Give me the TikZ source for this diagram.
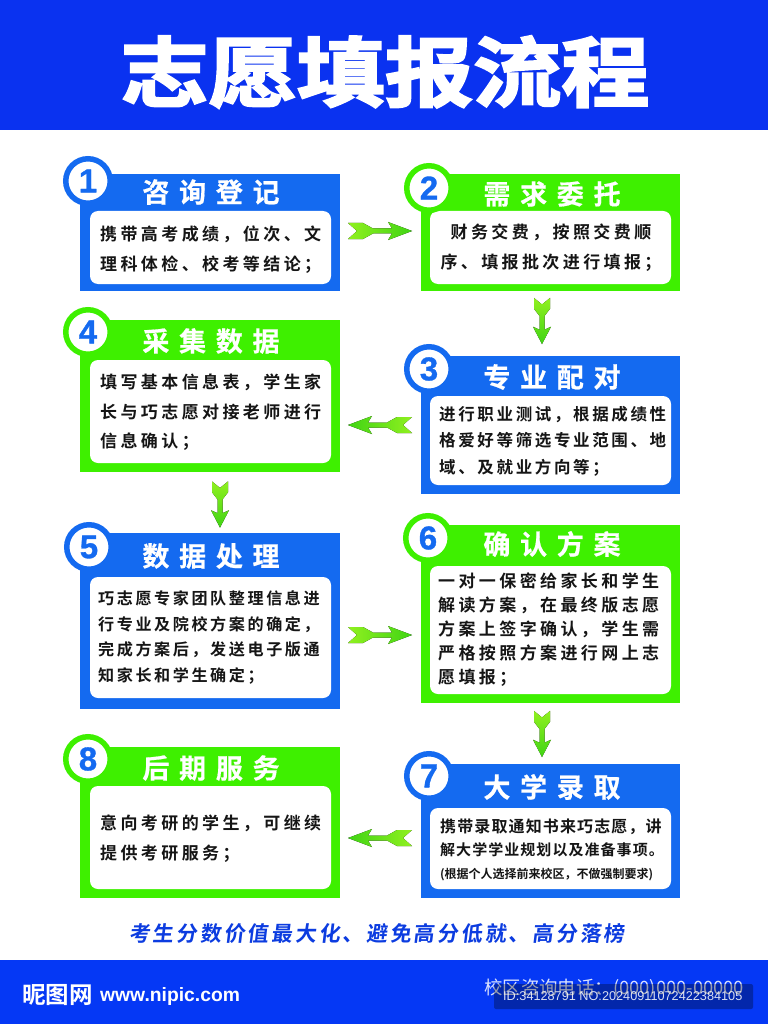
\documentclass[tikz,border=0pt]{standalone}
\usepackage{fontspec}
\usetikzlibrary{calc}
\setmainfont{Liberation Sans}
\newfontfamily\titlefont[FakeBold=3,FakeStretch=1.16]{Noto Sans CJK SC Bold}
\newfontfamily\headfont[LetterSpace=36,FakeBold=0.6]{Noto Sans CJK SC Bold}
\newfontfamily\bodyA[LetterSpace=20]{Noto Sans CJK SC Bold}
\newfontfamily\bodyB[LetterSpace=16]{Noto Sans CJK SC Bold}
\newfontfamily\bodyC[LetterSpace=7]{Noto Sans CJK SC Bold}
\newfontfamily\sloganfont[LetterSpace=13,FakeSlant=0.12]{Noto Sans CJK SC Bold}
\newfontfamily\plaincjk{Noto Sans CJK SC}
\newfontfamily\boldcjk{Noto Sans CJK SC Bold}
\newfontfamily\digitfont[FakeBold=1]{Liberation Sans Bold}
\definecolor{topblue}{HTML}{0A32F0}
\definecolor{bandblue}{HTML}{0538F5}
\definecolor{panelblue}{HTML}{146AF0}
\definecolor{panelgreen}{HTML}{3EF000}
\definecolor{tailgreen}{HTML}{90F020}
\definecolor{headgreen}{HTML}{40D414}
\definecolor{inktext}{HTML}{151515}
\definecolor{slogan}{HTML}{0C3CE0}
\tikzset{
  panelbox/.style={inner sep=0pt,outer sep=0pt,minimum width=#1},
  innerbox/.style={fill=white,rounded corners=8pt,inner sep=0pt,outer sep=0pt,minimum width=241pt},
  ring/.style={circle,fill=white,draw=#1,line width=5.5pt,minimum size=44.5pt,inner sep=0pt,outer sep=0pt,
    text=panelblue,font=\fontsize{33}{33}\selectfont\digitfont},
  headtext/.style={text=white,inner sep=0pt,font=\fontsize{27}{27}\selectfont\headfont},
  bodytext/.style={text=inktext,inner sep=0pt,anchor=west,align=left}
}
% #1 centre, #2 rotation, #3 length scale, #4 shading keys
\newcommand{\fatarrow}[4]{%
  \fill[#4,rotate around={#2:(#1)},shift={(#1)},xscale=#3]
    (-32,-8)--(-17,-8)--(-7,-2.5)--(12,-2.5)--(8,-9)--(32,0)--(8,9)--(12,2.5)--(-7,2.5)--(-17,8)--(-32,8)--(-23,0)--cycle;}
\begin{document}
\begin{tikzpicture}[x=1pt,y=-1pt]
\useasboundingbox (0,0) rectangle (768,1024);
\fill[white] (0,0) rectangle (768,1024);
\fill[topblue] (0,0) rectangle (768,130);
\fill[bandblue] (0,960) rectangle (768,1024);
\node[text=white,inner sep=0pt] (title) at (385,72) {\fontsize{76}{76}\selectfont\titlefont 志愿填报流程};

% panels
\node[panelbox=260pt,fill=panelblue,minimum height=117pt] (p1) at (210,232.5) {};
\node[panelbox=259pt,fill=panelgreen,minimum height=117pt] (p2) at (550.5,232.5) {};
\node[panelbox=260pt,fill=panelgreen,minimum height=152pt] (p4) at (210,396) {};
\node[panelbox=259pt,fill=panelblue,minimum height=138pt] (p3) at (550.5,425) {};
\node[panelbox=260pt,fill=panelblue,minimum height=176pt] (p5) at (210,621) {};
\node[panelbox=259pt,fill=panelgreen,minimum height=178pt] (p6) at (550.5,614) {};
\node[panelbox=260pt,fill=panelgreen,minimum height=151pt] (p8) at (210,822.5) {};
\node[panelbox=259pt,fill=panelblue,minimum height=134pt] (p7) at (550.5,831) {};

% inner boxes
\node[innerbox,minimum height=73pt] (i1) at (210.5,247.5) {};
\node[innerbox,minimum height=73pt] (i2) at (550.5,247.5) {};
\node[innerbox,minimum height=103pt] (i4) at (210.5,411.5) {};
\node[innerbox,minimum height=89pt] (i3) at (550.5,440.5) {};
\node[innerbox,minimum height=121pt] (i5) at (210.5,637.5) {};
\node[innerbox,minimum height=128pt] (i6) at (550.5,630) {};
\node[innerbox,minimum height=103pt] (i8) at (210.5,837.5) {};
\node[innerbox,minimum height=81pt] (i7) at (550.5,848.5) {};

% number rings
\node[ring=panelblue] (n1) at (88,181) {1};
\node[ring=panelgreen] (n2) at (429,188) {2};
\node[ring=panelgreen] (n4) at (88,332) {4};
\node[ring=panelblue] (n3) at (429,369) {3};
\node[ring=panelblue] (n5) at (89,547) {5};
\node[ring=panelgreen] (n6) at (428,538) {6};
\node[ring=panelgreen] (n8) at (88,759) {8};
\node[ring=panelblue] (n7) at (429,776) {7};

% headings
\node[headtext] (h1) at (211,192) {咨询登记};
\node[headtext] (h2) at (552,194) {需求委托};
\node[headtext] (h4) at (211,341) {采集数据};
\node[headtext] (h3) at (552,377) {专业配对};
\node[headtext] (h5) at (211,556) {数据处理};
\node[headtext] (h6) at (552,544) {确认方案};
\node[headtext] (h8) at (211,768) {后期服务};
\node[headtext] (h7) at (552,787) {大学录取};

% body
\node[bodytext,font=\fontsize{17}{29.5}\selectfont\bodyA] (t1) at (100,249.5) {携带高考成绩，位次、文\\理科体检、校考等结论；};
\node[bodytext,anchor=center,align=center,font=\fontsize{17}{30}\selectfont\bodyA] (t2) at (551,248) {财务交费，按照交费顺\\序、填报批次进行填报；};
\node[bodytext,font=\fontsize{17}{29.5}\selectfont\bodyA] (t4) at (100,412.5) {填写基本信息表，学生家\\长与巧志愿对接老师进行\\信息确认；};
\node[bodytext,font=\fontsize{16.5}{26.5}\selectfont\bodyB] (t3) at (439,441) {进行职业测试，根据成绩性\\格爱好等筛选专业范围、地\\域、及就业方向等；};
\node[bodytext,font=\fontsize{16.1}{25.7}\selectfont\bodyB] (t5) at (98,637.5) {巧志愿专家团队整理信息进\\行专业及院校方案的确定，\\完成方案后，发送电子版通\\知家长和学生确定；};
\node[bodytext,font=\fontsize{17}{24}\selectfont\bodyA] (t6) at (438,630) {一对一保密给家长和学生\\解读方案，在最终版志愿\\方案上签字确认，学生需\\严格按照方案进行网上志\\愿填报；};
\node[bodytext,font=\fontsize{17}{30}\selectfont\bodyA] (t8) at (100,838.5) {意向考研的学生，可继续\\提供考研服务；};
\node[bodytext,font=\fontsize{16}{16}\selectfont\bodyC] (t7) at (440,827) {携带录取通知书来巧志愿，讲};
\node[bodytext,font=\fontsize{15}{16}\selectfont\bodyC] (t7a) at (440,850) {解大学学业规划以及准备事项。};
\node[bodytext,font=\fontsize{12}{12}\selectfont\boldcjk] (t7b) at (440,875) {(根据个人选择前来校区，不做强制要求)};

% connectors
\coordinate (a12) at (380,231);
\coordinate (a23) at (542,321);
\coordinate (a34) at (380,425);
\coordinate (a45) at (220,504.5);
\coordinate (a56) at (380,635);
\coordinate (a67) at (542,734);
\coordinate (a78) at (380,838);
\fatarrow{a12}{0}{1}{left color=tailgreen,right color=headgreen}
\fatarrow{a23}{-90}{.72}{top color=tailgreen,bottom color=headgreen}
\fatarrow{a34}{180}{1}{right color=tailgreen,left color=headgreen}
\fatarrow{a45}{-90}{.72}{top color=tailgreen,bottom color=headgreen}
\fatarrow{a56}{0}{1}{left color=tailgreen,right color=headgreen}
\fatarrow{a67}{-90}{.72}{top color=tailgreen,bottom color=headgreen}
\fatarrow{a78}{180}{1}{right color=tailgreen,left color=headgreen}

% slogan
\node[text=slogan,inner sep=0pt] (sl) at (377,934) {\fontsize{21}{21}\selectfont\sloganfont 考生分数价值最大化、避免高分低就、高分落榜};

% footer
\node[text=white,inner sep=0pt,anchor=west] (logo) at (22,995) {\fontsize{23.5}{23.5}\selectfont\boldcjk 昵图网};
\node[text=white,inner sep=0pt,anchor=west] (url) at (100,996) {\fontsize{19.3}{19}\selectfont\bfseries www.nipic.com};
\node[text=white,opacity=.85,inner sep=0pt,anchor=west] (tel) at (484,989) {\fontsize{18.4}{18}\selectfont\plaincjk 校区咨询电话：(000)000-00000};
\fill[black,opacity=.3,rounded corners=2pt] (494,984) rectangle (753,1009);
\node[text=white,opacity=.85,inner sep=0pt,anchor=west] (idt) at (503,996) {\fontsize{12.7}{12.7}\selectfont ID:34128791 NO:20240911072422384105};
\end{tikzpicture}
\end{document}
